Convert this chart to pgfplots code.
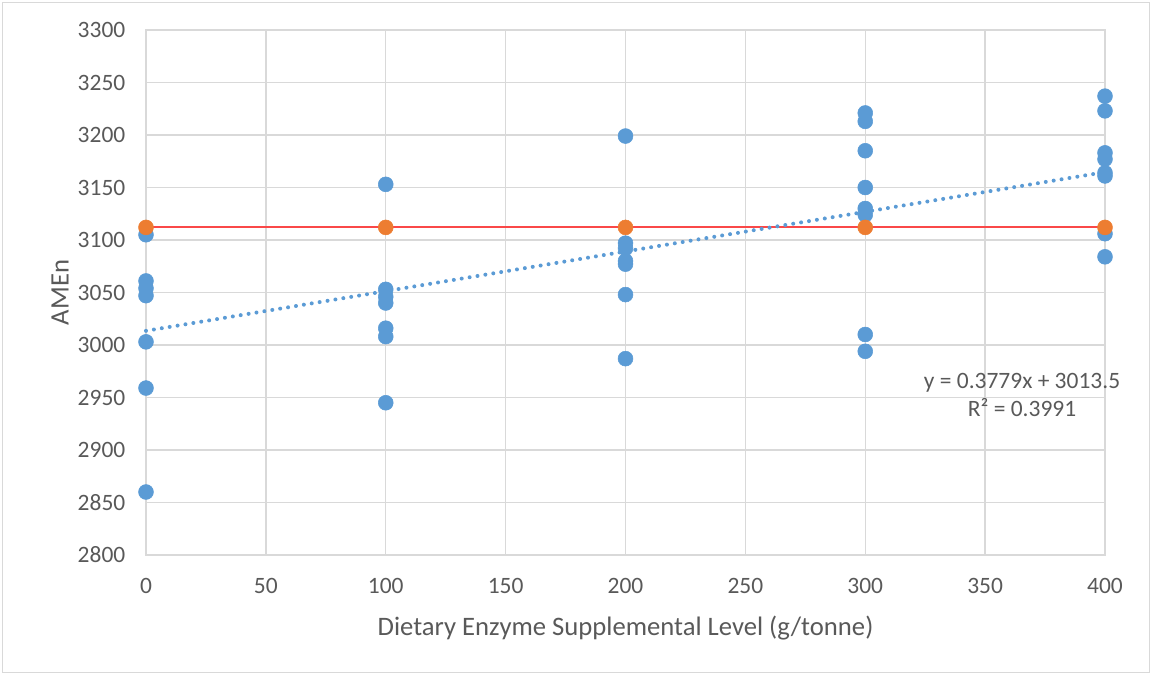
\documentclass[border=0pt]{standalone}
\usepackage{pgfplots}
\pgfplotsset{compat=1.18}
\usepackage{fontspec}
\setmainfont{Carlito}
\definecolor{ptblue}{RGB}{91,155,213}
\definecolor{ptorange}{RGB}{237,125,49}
\definecolor{ptred}{RGB}{250,72,72}
\definecolor{gridc}{RGB}{217,217,217}
\definecolor{txt}{RGB}{89,89,89}
\begin{document}
\begin{tikzpicture}
\path[use as bounding box] (-109.5pt,-90pt) rectangle (754.5pt,416.25pt);
\begin{axis}[
  at={(0pt,0pt)}, anchor=south west,
  scale only axis,
  width=719.25pt, height=393.75pt,
  xmin=0, xmax=400, ymin=2800, ymax=3300,
  xtick={0,50,...,400}, ytick={2800,2850,...,3300},
  grid=major,
  major grid style={gridc, line width=1pt},
  axis line style={gridc, line width=1pt},
  tick style={draw=none},
  ticklabel style={font=\fontsize{17.6pt}{21pt}\selectfont, text=txt},
  /pgf/number format/assume math mode=true,
  /pgf/number format/1000 sep={},
  xticklabel style={yshift=-14pt},
  yticklabel style={xshift=-12pt},
  xlabel={Dietary Enzyme Supplemental Level (g/tonne)},
  ylabel={AMEn},
  label style={font=\fontsize{20pt}{24pt}\selectfont, text=txt},
  xlabel style={yshift=-10pt},
  ylabel style={yshift=0pt},
  clip=false,
]
\addplot[only marks, mark=*, mark size=5.6pt, color=ptblue, mark options={draw=ptblue, fill=ptblue}] coordinates {
(0,3105) (0,3061) (0,3054) (0,3047) (0,3003) (0,2959) (0,2860)
(100,3153) (100,3053) (100,3046) (100,3040) (100,3016) (100,3008) (100,2945)
(200,3199) (200,3097) (200,3092) (200,3080) (200,3077) (200,3048) (200,2987)
(300,3221) (300,3213) (300,3185) (300,3150) (300,3130) (300,3124) (300,3010) (300,2994)
(400,3237) (400,3223) (400,3183) (400,3177) (400,3164) (400,3161) (400,3106) (400,3084)
};
\addplot[draw=ptred, color=ptred, line width=1.4pt, no marks] coordinates {(0,3112) (400,3112)};
\addplot[only marks, mark=*, mark size=5.6pt, mark options={draw=ptorange, fill=ptorange}] coordinates {
(0,3112) (100,3112) (200,3112) (300,3112) (400,3112)
};
\addplot[color=ptblue, line width=3pt, line cap=round, dash pattern=on 0pt off 6pt] coordinates {(0,3013.5) (400,3164.66)};
\node[align=center, text=txt, font=\fontsize{17.6pt}{21pt}\selectfont] at (axis cs:365.4,2952.4) {y = 0.3779x + 3013.5\\R² = 0.3991};
\end{axis}
\draw[gridc, line width=0.75pt] (-107.25pt,-87.75pt) rectangle (752.25pt,414pt);
\end{tikzpicture}
\end{document}
